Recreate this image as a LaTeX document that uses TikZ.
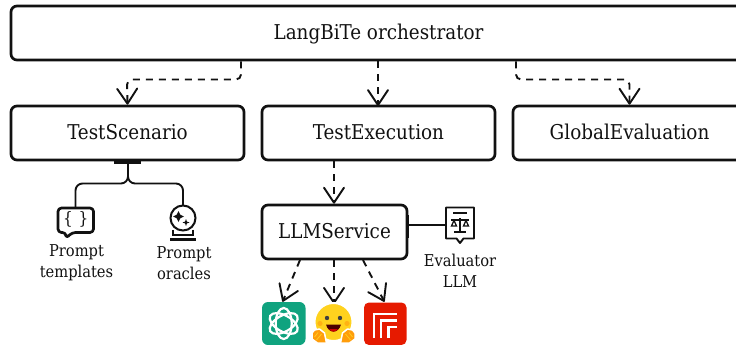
\documentclass[tikz,border=0pt]{standalone}
\usepackage{fontspec}
\setmainfont{DejaVu Serif Condensed}
\usetikzlibrary{arrows.meta}
\definecolor{ink}{HTML}{111111}
\definecolor{gptgreen}{HTML}{10A37F}
\definecolor{flame}{HTML}{E61A00}
\definecolor{hugy}{HTML}{FFD21E}
\definecolor{hugo}{HTML}{FF9D0B}
\tikzset{
  boxnode/.style={draw=ink,line width=2.7pt,rounded corners=6pt,fill=white,minimum height=54pt,inner sep=0pt,text height=12.6pt,text depth=0pt,font=\fontsize{20.4}{24}\selectfont,text=ink,align=center},
  dashconn/.style={draw=ink,line width=1.9pt,dash pattern=on 7pt off 6pt,rounded corners=5pt,
     -{Straight Barb[length=15pt,width=20pt,line width=1.9pt,round]}},
  solidconn/.style={draw=ink,line width=1.9pt,rounded corners=7pt},
  iconlabel/.style={font=\fontsize{16.3}{21}\selectfont,text=ink,align=center,inner sep=0pt},
  iconline/.style={draw=ink,line width=2pt},
  anchorpt/.style={inner sep=0pt,minimum size=0pt},
}
\begin{document}
\begin{tikzpicture}[x=1pt,y=-1pt]
\useasboundingbox (0,0) rectangle (736,345);
\clip (0,0) rectangle (736,345);
\node[boxnode,minimum width=735pt] (orch) at (378.5,33) {LangBiTe orchestrator};
\node[boxnode,minimum width=233pt] (scen) at (127.5,133) {TestScenario};
\node[boxnode,minimum width=233pt] (exec) at (378.5,133) {TestExecution};
\node[boxnode,minimum width=233pt] (glob) at (629.5,133) {GlobalEvaluation};
\node[boxnode,minimum width=145pt] (llm) at (334.5,232) {LLMService};
% icon anchors
\node[anchorpt] (tpl) at (75.5,207) {};
\node[anchorpt] (ora) at (183,205) {};
\node[anchorpt] (evl) at (446,225) {};
\node[anchorpt] (gpt) at (282.5,302) {};
\node[anchorpt] (hug) at (334,304) {};
\node[anchorpt] (rep) at (384.5,302) {};
% dashed connectors
\draw[dashconn] (orch.south -| 241,0) -- (241,79.5) -- (127,79.5) -- (scen.north);
\draw[dashconn] (orch.south -| 378,0) -- (378,106);
\draw[dashconn] (orch.south -| 516,0) -- (516,79.5) -- (629.5,79.5) -- (glob.north);
\draw[dashconn] (exec.south -| 334,0) -- (llm.north -| 334,0);
\draw[dashconn] (300,260) -- (gpt);
\draw[dashconn] (334,260) -- (hug);
\draw[dashconn] (363,260) -- (rep);
% solid connectors
\draw[draw=ink,line width=2.6pt] (114,162.5) -- (141,162.5);
\draw[solidconn] (128,162) -- (128,183.5) -- (75.5,183.5) -- (tpl);
\draw[solidconn] (128,162) -- (128,183.5) -- (183,183.5) -- (ora);
\draw[draw=ink,line width=2.8pt] (408,215) -- (408,238);
\draw[draw=ink,line width=1.9pt] (408,225) -- (evl);
% templates icon
\draw[draw=ink,line width=2.7pt,rounded corners=3.5pt,fill=white,line join=round]
  (58,208) -- (93.5,208) -- (93.5,232.5) -- (72,232.5) -- (66,238.5) -- (66,232.5) -- (58,232.5) -- cycle;
\node[font=\fontsize{17}{17}\selectfont,text=ink,inner sep=0pt] (braces) at (75.7,219.5) {\{\,\,\}};
% crystal ball icon
\draw[iconline,fill=white] (183,218) circle (12.5);
\fill[ink] (178.5,211) -- (180.3,214.7) -- (184,216.5) -- (180.3,218.3) -- (178.5,222) -- (176.7,218.3) -- (173,216.5) -- (176.7,214.7) -- cycle;
\fill[ink] (186,219) -- (186.9,221.6) -- (189.5,222.5) -- (186.9,223.4) -- (186,226) -- (185.1,223.4) -- (182.5,222.5) -- (185.1,221.6) -- cycle;
\draw[iconline] (173,235) -- (173,229.5) (193,229.5) -- (193,235);
\draw[iconline] (172,234.5) -- (194,234.5);
\draw[draw=ink,line width=2.4pt] (170,239.5) -- (196,239.5);
% evaluator icon
\draw[draw=ink,line width=1.9pt,fill=white,line join=round] (446,207.5) -- (474,207.5) -- (474,238.5) -- (463.5,238.5) -- (460,243) -- (456.5,238.5) -- (446,238.5) -- cycle;
\draw[draw=ink,line width=1.7pt] (453,213) -- (467,213) (451,220) -- (469,220) (460,218) -- (460,231) (454,232) -- (466,232);
\draw[draw=ink,line width=1.3pt] (451.5,226) -- (454,220.5) -- (456.5,226) -- cycle (463.5,226) -- (466,220.5) -- (468.5,226) -- cycle;
% labels
\node[iconlabel] (ltpl) at (76.5,262.5) {Prompt\\templates};
\node[iconlabel] (lora) at (184,263) {Prompt\\oracles};
\node[iconlabel] (levl) at (460,271) {Evaluator\\LLM};
% OpenAI logo
\fill[gptgreen,rounded corners=6pt] (262,302) rectangle (305.5,345);
\begin{scope}[shift={(283.7,323.5)}]
  \foreach \a in {30,90,150}{
    \draw[white,line width=2.2pt,rotate=\a] (0,0) ellipse (15.5 and 8);
  }
  \fill[gptgreen] (0,0) circle (4.5);
\end{scope}
% Hugging face logo
\begin{scope}[shift={(333.5,322)}]
  \draw[white,line width=2pt,fill=hugy] (0,0) circle (19);
  \fill[hugo!60!hugy] (-13.5,1.5) circle (2.6) (13.5,1.5) circle (2.6);
  \fill[black!75] (-6.5,-4) circle (2.2) (6.5,-4) circle (2.2);
  \fill[black!70!red] (-7.5,2.5) .. controls (-5,12) and (5,12) .. (7.5,2.5) -- cycle;
  \fill[red!80!black] (-4.5,7) .. controls (-2,10.5) and (2,10.5) .. (4.5,7) -- cycle;
  \foreach \s in {-1,1}{
    \draw[white,line width=1.5pt,fill=hugo,line join=round,xscale=\s] (7,21) -- (9,11) -- (14,7) -- (19,8) -- (21.5,11) -- (21.5,17) -- (16,21) -- cycle;
    \draw[hugy,line width=.7pt,xscale=\s] (12,12) -- (17,18) (15.5,10.5) -- (19,15);
  }
\end{scope}
% red logo
\fill[flame,rounded corners=5pt] (364,302.5) rectangle (406.5,345);
\draw[white,line width=2.6pt] (374,338) -- (374,314) -- (397,314);
\draw[white,line width=2.6pt] (381,338) -- (381,320.5) -- (397,320.5);
\draw[white,line width=2.6pt] (388.5,338) -- (388.5,327) -- (397,327);
\end{tikzpicture}
\end{document}
